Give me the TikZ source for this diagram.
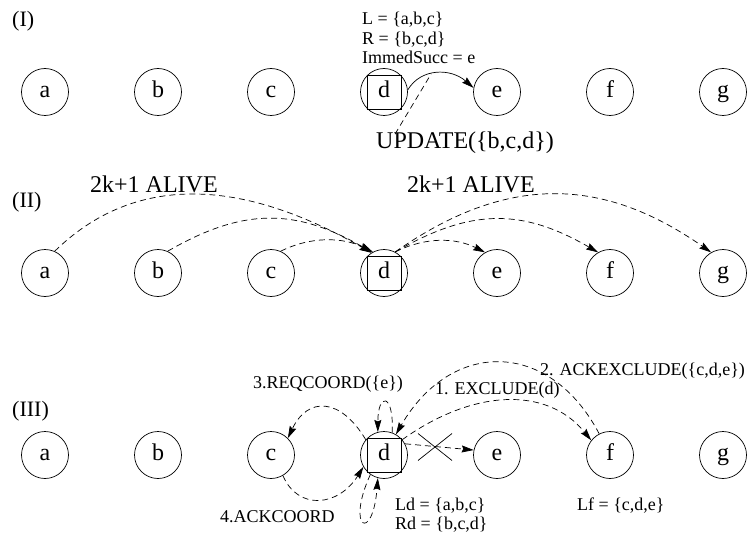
\documentclass[tikz,border=0pt]{standalone}
\usepackage{fontspec}
\setmainfont{Liberation Serif}
\usetikzlibrary{arrows.meta,calc}
\begin{document}
\begin{tikzpicture}[x=1pt,y=-1pt,
  nd/.style={circle,draw,line width=0.7pt,minimum size=47pt,inner sep=0pt,text height=12pt,text depth=1pt,font=\fontsize{24}{26}\selectfont},
  lbl/.style={anchor=base west,inner sep=0pt,font=\fontsize{18}{20}\selectfont},
  big/.style={anchor=base west,inner sep=0pt,font=\fontsize{24}{26}\selectfont},
  sec/.style={anchor=base west,inner sep=0pt,font=\fontsize{22}{24}\selectfont},
  msg/.style={line width=0.7pt,dash pattern=on 6pt off 4pt},
  solidln/.style={line width=0.7pt},
  tip/.style={-{Stealth[length=12pt,width=7pt,inset=1.5pt]}},
]
\useasboundingbox (0,0) rectangle (754,540);

% ---------- (I)
\node[sec] (s1) at (12,27) {(I)};
\foreach \n/\x in {a/45,b/158,c/271,d/384,e/497,f/610,g/723}
  \node[nd] (\n1) at (\x,92) {\n};
\draw[solidln] (d1.45) rectangle (d1.225);
\node[lbl] (L1) at (362,25) {L = \{a,b,c\}};
\node[lbl] (R1) at (362,45) {R = \{b,c,d\}};
\node[lbl] (I1) at (362,64) {ImmedSucc = e};
\draw[solidln,tip] (d1.5) .. controls +(13,-22) and +(-23,-20) .. (e1.170) coordinate[pos=0.42] (pk);
\node[big] (upd) at (376,149) {UPDATE(\{b,c,d\})};
\draw[msg] ($(upd.north west)+(19,2)$) -- (pk);

% ---------- (II)
\node[sec] (s2) at (12,207) {(II)};
\foreach \n/\x in {a/45,b/158,c/271,d/384,e/497,f/610,g/723}
  \node[nd] (\n2) at (\x,273) {\n};
\draw[solidln] (d2.45) rectangle (d2.225);
\node[big] (al1) at (90,193) {2k+1 ALIVE};
\node[big] (al2) at (407,193) {2k+1 ALIVE};
\draw[msg,tip] (a2.66) .. controls +(80,-78) and +(-130,-75) .. (d2.122);
\draw[msg,tip] (b2.66) .. controls +(76,-44) and +(-76,-44) .. (d2.120);
\draw[msg,tip] (c2.66) .. controls +(30,-15) and +(-30,-15) .. (d2.118);
\draw[msg,tip] (d2.62) .. controls +(30,-15) and +(-30,-15) .. (e2.120);
\draw[msg,tip] (d2.62) .. controls +(76,-44) and +(-76,-44) .. (f2.120);
\draw[msg,tip] (d2.62) .. controls +(110,-77) and +(-110,-77) .. (g2.120);

% ---------- (III)
\node[sec] (s3) at (12,416) {(III)};
\foreach \n/\x in {a/45,b/158,c/271,d/384,e/497,f/610,g/723}
  \node[nd] (\n3) at (\x,455) {\n};
\draw[solidln] (d3.45) rectangle (d3.225);
\node[lbl] (rq) at (253,388) {3.REQCOORD(\{e\})};
\node[lbl] (ex) at (435,394) {1. EXCLUDE(d)};
\node[lbl] (ak) at (540,375) {2. ACKEXCLUDE(\{c,d,e\})};
\node[lbl] (ac) at (220,522) {4.ACKCOORD};
\node[lbl] (ld) at (395,510) {Ld = \{a,b,c\}};
\node[lbl] (rd) at (395,529) {Rd = \{b,c,d\}};
\node[lbl] (lf) at (577,510) {Lf = \{c,d,e\}};

\draw[msg,tip] (d3.140) .. controls +(-25,-42) and +(20,-42) .. (c3.45);
\draw[msg,tip] (d3.70) .. controls +(2,-40) and +(0,-40) .. (d3.105);
\draw[msg,tip] (c3.-60) .. controls +(15,35) and +(-25,40) .. (d3.210);
\draw[msg,tip] (d3.235) .. controls +(-25,55) and +(-5,65) .. (d3.255);
\draw[msg,tip] (d3.40) .. controls +(70,-50) and +(-45,-55) .. (f3.142);
\draw[msg,tip] (f3.117) .. controls +(-50,-95) and +(55,-95) .. (d3.60);
\draw[msg,tip] (d3.28) -- (e3.168);
\coordinate (xm) at (435,447);
\draw[solidln] ($(xm)+(-17,-13.5)$) -- ($(xm)+(17,13.5)$);
\draw[solidln] ($(xm)+(-17,13.5)$) -- ($(xm)+(17,-13.5)$);
\end{tikzpicture}
\end{document}
